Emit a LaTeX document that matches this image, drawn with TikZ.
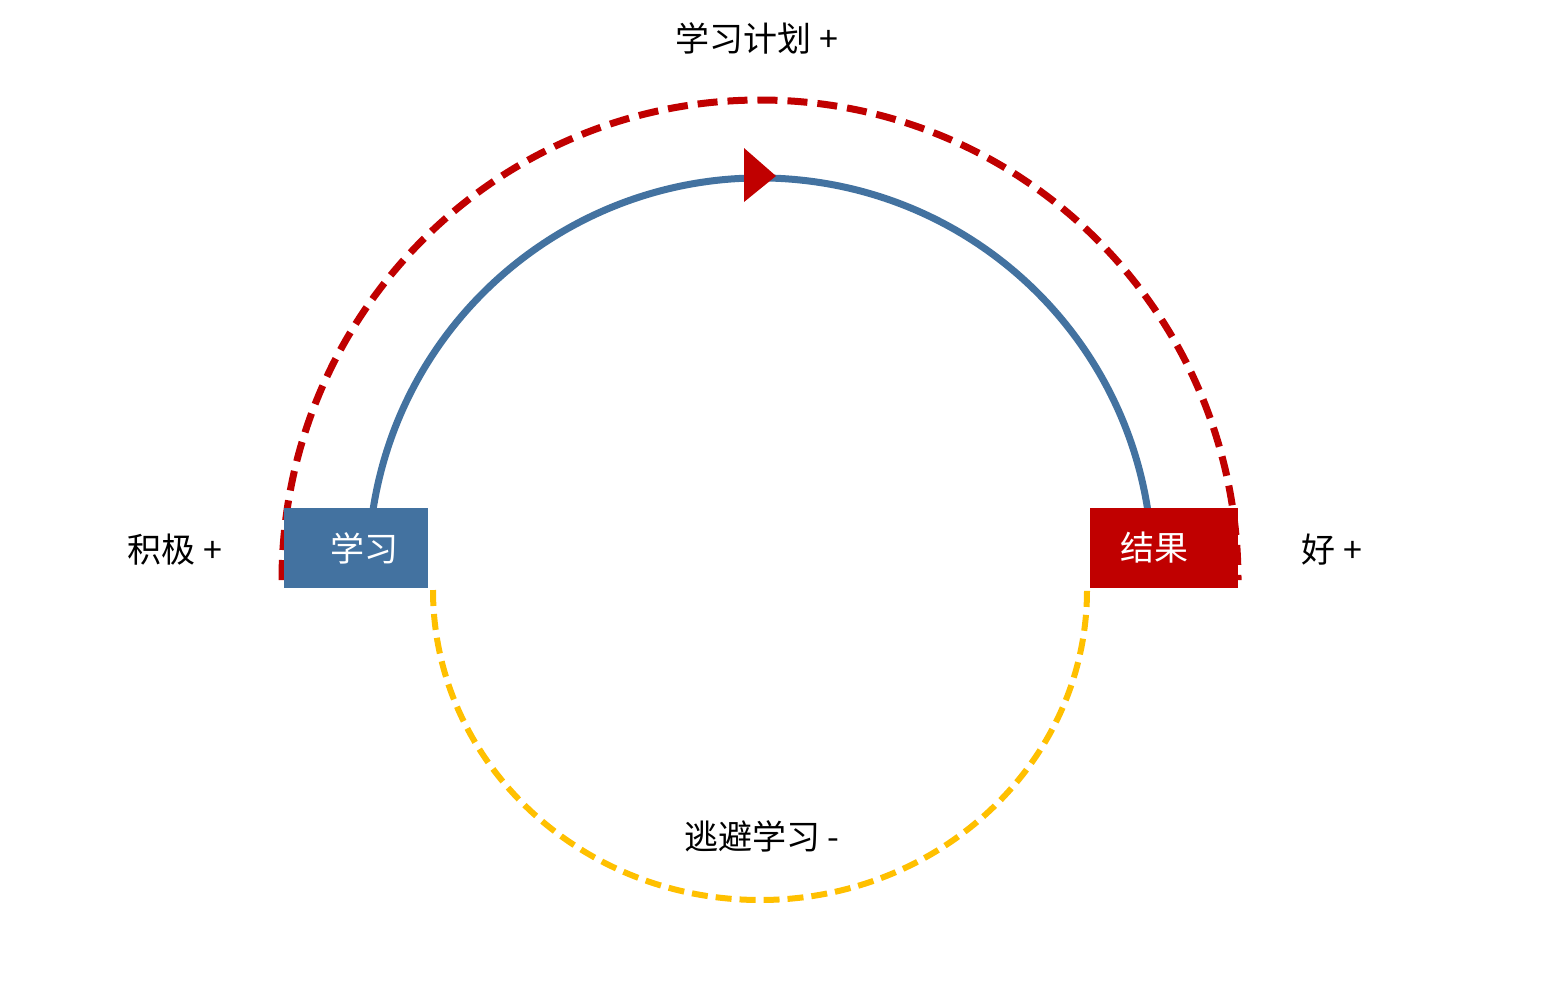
\documentclass[tikz,border=0pt]{standalone}
\usepackage{fontspec}
\newfontfamily\cjk{Noto Sans CJK SC}
\begin{document}
\begin{tikzpicture}[x=0.5pt,y=-0.5pt,
  lbl/.style={font=\cjk\fontsize{17}{19}\selectfont, text=black},
  boxlbl/.style={font=\cjk\fontsize{17}{19}\selectfont, text=white, minimum width=72pt, minimum height=40pt, inner sep=0pt}]
\useasboundingbox (0,0) rectangle (1564,992);
\fill[white] (0,0) rectangle (1564,992);
% red dashed arc
\draw[color={rgb,255:red,192;green,0;blue,0}, line width=3.5pt, dash pattern=on 10pt off 5pt]
  (282,580) arc[start angle=180, end angle=0, x radius=478, y radius=-480];
% yellow dashed arc
\draw[color={rgb,255:red,255;green,192;blue,0}, line width=3pt, dash pattern=on 8pt off 4pt]
  (433,590) arc[start angle=180, end angle=360, x radius=327, y radius=-310];
% blue arc
\draw[color={rgb,255:red,67;green,114;blue,160}, line width=3.5pt]
  (373,510) arc[start angle=188.8, end angle=351.2, radius=392];
% arrow head
\fill[color={rgb,255:red,192;green,0;blue,0}] (744,148) -- (776,176) -- (744,202) -- cycle;
% boxes
\node[boxlbl, fill={rgb,255:red,67;green,114;blue,160}] (study) at (356,548) {\hspace*{8pt}学习};
\node[boxlbl, fill={rgb,255:red,192;green,0;blue,0}, minimum width=74pt] (result) at (1164,548) {结果\hspace*{10pt}};
% labels
\node[lbl] (plan) at (757,38) {学习计划\ +};
\node[lbl] (pos) at (175,550) {积极\ +};
\node[lbl] (good) at (1332,550) {好\ +};
\node[lbl] (avoid) at (762,836) {逃避学习\ -};
\end{tikzpicture}
\end{document}
